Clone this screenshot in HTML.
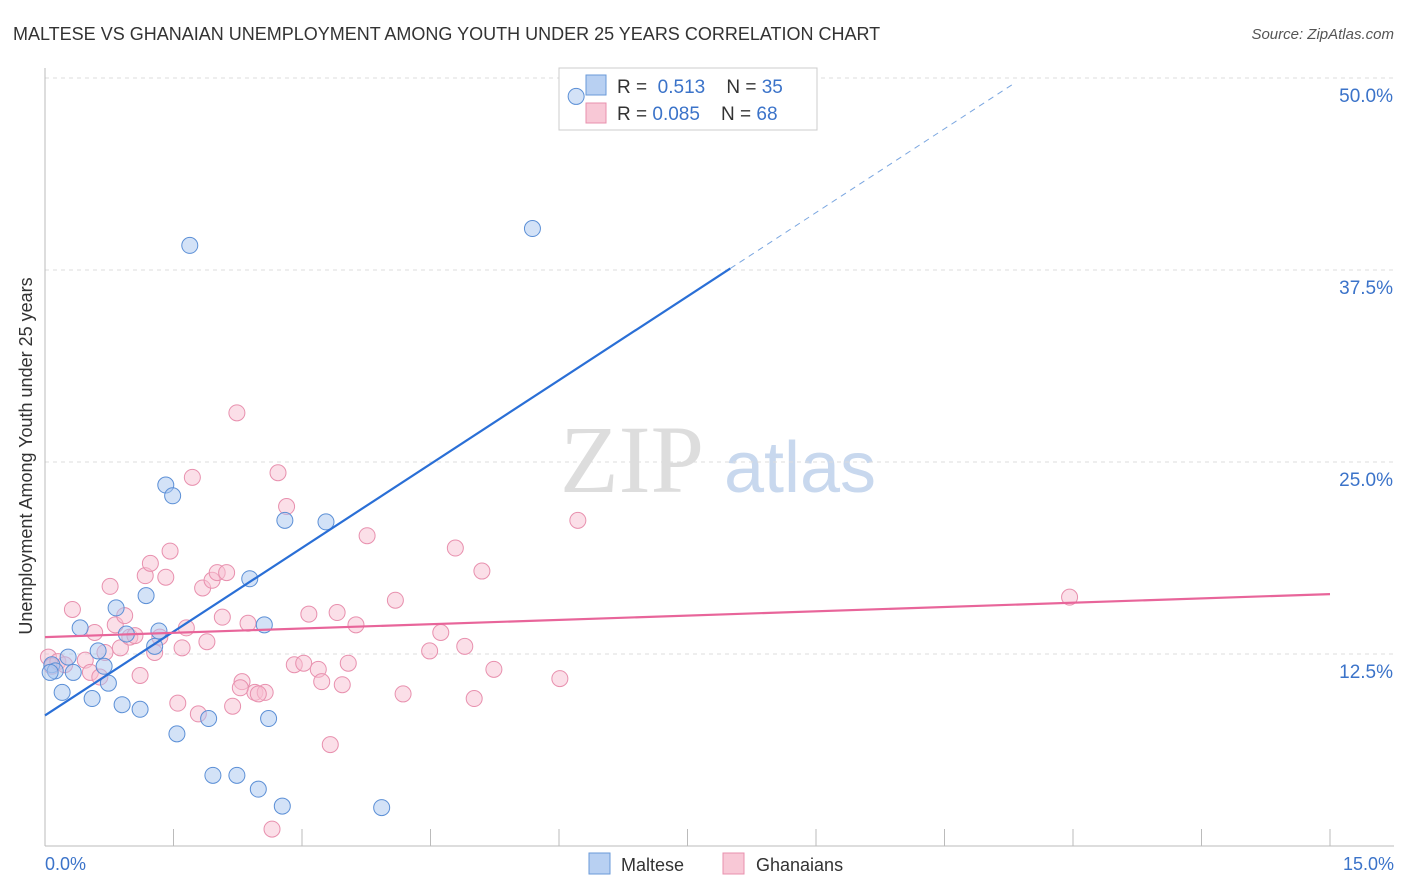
<!DOCTYPE html>
<html><head><meta charset="utf-8">
<style>
body{margin:0;background:#fff;font-family:"Liberation Sans",sans-serif;}
#wrap{position:relative;width:1406px;height:892px;overflow:hidden;}
</style></head>
<body>
<div id="wrap">
<svg id="svg" width="1406" height="892">
<text x="13" y="40" font-size="18" fill="#333">MALTESE VS GHANAIAN UNEMPLOYMENT AMONG YOUTH UNDER 25 YEARS CORRELATION CHART</text>
<text x="1394" y="39" font-size="15" fill="#555" text-anchor="end" font-style="italic">Source: ZipAtlas.com</text>
<text x="632" y="492" font-size="96" fill="#ddd" font-family="Liberation Serif" text-anchor="middle">ZIP</text>
<text x="800" y="492" font-size="72" fill="#c8d8ee" text-anchor="middle">atlas</text>
<g id="grid"></g>
<g>
<rect x="559" y="68" width="258" height="62" fill="#fff" stroke="#ccc"/>
<rect x="586" y="75" width="20" height="20" fill="#b8d0f2" stroke="#6a9ad8"/>
<rect x="586" y="103" width="20" height="20" fill="#f8c8d6" stroke="#e890ae"/>
<text x="617" y="93" font-size="19" fill="#333">R = <tspan fill="#3b73c9">&#160;0.513</tspan>&#160;&#160;&#160;&#160;N = <tspan fill="#3b73c9">35</tspan></text>
<text x="617" y="120" font-size="19" fill="#333">R = <tspan fill="#3b73c9">0.085</tspan>&#160;&#160;&#160;&#160;N = <tspan fill="#3b73c9">68</tspan></text>
</g>
<g id="marks"></g><g id="lines"></g>
<text x="32" y="456" font-size="18" fill="#333" text-anchor="middle" transform="rotate(-90 32 456)">Unemployment Among Youth under 25 years</text>
<text x="45" y="870" font-size="18" fill="#3b73c9">0.0%</text>
<text x="1394" y="870" font-size="18" fill="#3b73c9" text-anchor="end">15.0%</text>
<g>
<rect x="589" y="853" width="21" height="21" fill="#b8d0f2" stroke="#6a9ad8"/>
<text x="621" y="871" font-size="18" fill="#333">Maltese</text>
<rect x="723" y="853" width="21" height="21" fill="#f8c8d6" stroke="#e890ae"/>
<text x="756" y="871" font-size="18" fill="#333">Ghanaians</text>
</g>
</svg>
</div>
<script>
const yTicks=[12.5,25,37.5,50];
const yTickLabels=["12.5%","25.0%","37.5%","50.0%"];
const xTicks=[0,1.5,3,4.5,6,7.5,9,10.5,12,13.5,15];
const malteseX=[6.2,5.69,1.69,1.41,1.49,2.8,3.28,2.39,1.18,0.83,0.41,2.56,0.95,1.33,1.28,0.62,0.27,0.08,0.12,0.33,0.69,0.74,0.2,0.55,0.9,1.11,1.54,1.91,2.61,1.96,2.24,2.49,2.77,3.93,0.06];
const malteseY=[48.8,40.2,39.1,23.5,22.8,21.2,21.1,17.4,16.3,15.5,14.2,14.4,13.8,14.0,13.0,12.7,12.3,11.8,11.4,11.3,11.7,10.6,10.0,9.6,9.2,8.9,7.3,8.3,8.3,4.6,4.6,3.7,2.6,2.5,11.3];
const ghanaX=[0.04,0.08,0.15,0.23,0.32,0.47,0.53,0.58,0.64,0.7,0.76,0.82,0.88,0.93,0.99,1.05,1.11,1.17,1.23,1.28,1.34,1.41,1.46,1.55,1.6,1.65,1.72,1.79,1.84,1.89,1.95,2.01,2.07,2.12,2.19,2.24,2.3,2.37,2.45,2.57,2.65,2.72,2.82,2.91,3.02,3.08,3.19,3.23,3.33,3.41,3.47,3.54,3.63,3.76,4.09,4.18,4.49,4.62,4.79,4.9,5.01,5.1,5.24,6.01,6.22,11.96,2.28,2.49];
const ghanaY=[12.3,11.7,12.0,11.8,15.4,12.1,11.3,13.9,11.0,12.6,16.9,14.4,12.9,15.0,13.6,13.7,11.1,17.6,18.4,12.6,13.6,17.5,19.2,9.3,12.9,14.2,24.0,8.6,16.8,13.3,17.3,17.8,14.9,17.8,9.1,28.2,10.7,14.5,10.0,10.0,1.1,24.3,22.1,11.8,11.9,15.1,11.5,10.7,6.6,15.2,10.5,11.9,14.4,20.2,16.0,9.9,12.7,13.9,19.4,13.0,9.6,17.9,11.5,10.9,21.2,16.2,10.3,9.9];
const malteseFit=[0,8.5,8,37.6];
const ghanaFit=[0,13.6,15,16.4];
const X0=45,X1=1330,Y0=846,YS=15.36;
const sx=v=>X0+(X1-X0)*v/15, sy=v=>Y0-YS*v;
const NS="http://www.w3.org/2000/svg";
function mk(tag,attrs,parent){const e=document.createElementNS(NS,tag);for(const k in attrs)e.setAttribute(k,attrs[k]);parent.appendChild(e);return e;}
const grid=document.getElementById('grid'),marks=document.getElementById('marks'),lines=document.getElementById('lines');
yTicks.forEach((t,i)=>{
 const l=mk('line',{x1:X0,x2:1394,y1:sy(t),y2:sy(t),stroke:'#ddd','stroke-dasharray':'4,4'},grid);
 
 
 const tx=mk('text',{x:1393,y:sy(t)+24,'font-size':19,fill:'#3b73c9','text-anchor':'end'},grid);
 tx.textContent=yTickLabels[i];
 
 
});
const ax=mk('line',{x1:X0,x2:1394,y1:Y0,y2:Y0,stroke:'#bbb'},grid);


const ay=mk('line',{x1:X0,x2:X0,y1:68,y2:Y0,stroke:'#bbb'},grid);


xTicks.forEach(t=>{
 const l=mk('line',{x1:sx(t),x2:sx(t),y1:Y0,y2:Y0-17,stroke:'#bbb'},grid);
 
 
});
function pts(xs,ys,fill,stroke,name){xs.forEach((x,i)=>{
 const c=mk('circle',{cx:sx(x),cy:sy(ys[i]),r:8,fill:fill,'fill-opacity':0.5,stroke:stroke,'stroke-width':1},marks);
 
 
});}
pts(ghanaX,ghanaY,'#f8c0d2','#e890ae','ghanaian-point');
pts(malteseX,malteseY,'#a8c6f0','#5b8fd6','maltese-point');
const slope=(malteseFit[3]-malteseFit[1])/(malteseFit[2]-malteseFit[0]);
const b1=mk('line',{x1:sx(malteseFit[0]),y1:sy(malteseFit[1]),x2:sx(malteseFit[2]),y2:sy(malteseFit[3]),stroke:'#2a6fd6','stroke-width':2.2},lines);


const xe=11.32;
const b2=mk('line',{x1:sx(malteseFit[2]),y1:sy(malteseFit[3]),x2:sx(xe),y2:sy(malteseFit[1]+slope*xe),stroke:'#7aa6e0','stroke-width':1,'stroke-dasharray':'6,5'},lines);


const p1=mk('line',{x1:sx(ghanaFit[0]),y1:sy(ghanaFit[1]),x2:sx(ghanaFit[2]),y2:sy(ghanaFit[3]),stroke:'#e8659a','stroke-width':2.2},lines);


</script>
</body></html>
